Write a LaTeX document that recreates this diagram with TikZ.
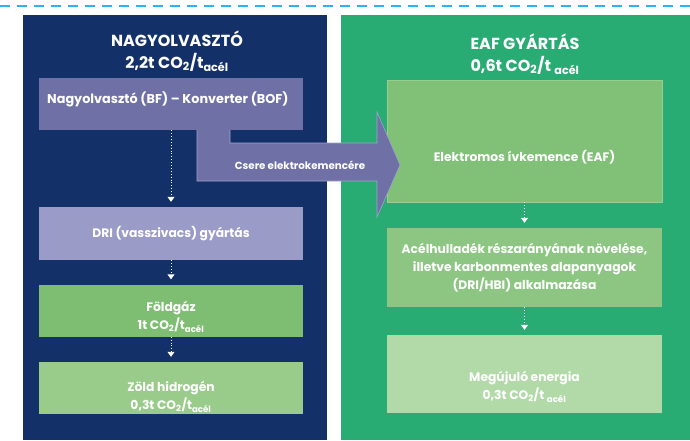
\documentclass[tikz,border=0pt]{standalone}
\usepackage{fontspec}
\setmainfont{Poppins}
\usetikzlibrary{arrows.meta}
\definecolor{navy}{RGB}{19,49,104}
\definecolor{pgreen}{RGB}{40,172,116}
\definecolor{slate}{RGB}{110,112,166}
\definecolor{slateedge}{RGB}{160,163,200}
\definecolor{lav}{RGB}{154,155,198}
\definecolor{gA}{RGB}{126,190,114}
\definecolor{gB}{RGB}{153,204,138}
\definecolor{gR1}{RGB}{128,193,119}
\definecolor{gR2}{RGB}{140,198,130}
\definecolor{gR3}{RGB}{178,217,168}
\definecolor{dashblue}{RGB}{43,181,238}
\newcommand\cotwo{CO\textsubscript{2}}
\newcommand\tac{t\textsubscript{acél}}
\tikzset{
  panel/.style={rectangle, inner sep=0pt, anchor=north west},
  boxL/.style={rectangle, inner sep=0pt, minimum width=264pt, text=white, font=\fontsize{12.3}{18}\selectfont\bfseries, align=center},
  boxR/.style={rectangle, inner sep=0pt, minimum width=275pt, text=white, font=\fontsize{12.3}{18}\selectfont\bfseries, align=center},
  boxtext/.style={text=white, font=\fontsize{12.3}{18}\selectfont\bfseries, align=center, inner sep=0pt},
  ttl/.style={text=white, font=\fontsize{16}{22}\selectfont\bfseries, align=center, inner sep=0pt},
  dotarrow/.style={draw=white, dotted, line width=0.9pt, -{Triangle[width=7pt,length=5pt]}, shorten >=5pt},
  dashline/.style={draw=dashblue, line width=1.4pt, dash pattern=on 10pt off 7pt}
}
\begin{document}
\begin{tikzpicture}[x=1pt,y=-1pt]
\useasboundingbox (0,0) rectangle (690,440);
\fill[white] (0,0) rectangle (690,440);
\coordinate (dl) at (0,6);
\coordinate (dr) at (690,6);
\draw[dashline] (dl) -- (dr);
% panels
\node[panel, fill=navy, minimum width=304pt, minimum height=425pt] (lp) at (23,15) {};
\node[panel, fill=pgreen, minimum width=349pt, minimum height=425pt] (rp) at (341,15) {};
% titles
\node[ttl] (tl) at (177,51) {NAGYOLVASZTÓ\\2,2t \cotwo/\tac};
\node[ttl] (tr) at (525,54) {EAF GYÁRTÁS\\0,6t \cotwo/t \textsubscript{acél}};
% right boxes
\node[boxR, fill=gR1, draw=gR1!80!white, line width=0.6pt, minimum height=122pt] (r1) at (524.5,141) {};
\node[boxtext] (r1t) at (524.5,157) {Elektromos ívkemence (EAF)};
% arrow
\fill[slate] (197,130) -- (230,130) -- (230,143) -- (377,143) -- (377,112) -- (400,165) -- (377,217) -- (377,181) -- (197,181) -- cycle;
\draw[slateedge, line width=0.6pt] (230,130) -- (230,143) -- (377,143) -- (377,112) -- (400,165) -- (377,217) -- (377,181) -- (197,181) -- (197,130);
\node[text=white, font=\fontsize{10.3}{12}\selectfont\bfseries, inner sep=0pt] (lbl) at (300,165) {Csere elektrokemencére};
% left boxes
\node[boxL, fill=slate, minimum height=52pt] (b1) at (171,104) {};
\node[text=white, font=\fontsize{12.8}{15}\selectfont\bfseries, anchor=west, inner sep=0pt] (b1t) at (47,99) {Nagyolvasztó (BF) – Konverter (BOF)};
\node[boxL, fill=lav, minimum height=53pt] (b2) at (171,233.5) {DRI (vasszivacs) gyártás};
\node[boxL, fill=gA, minimum height=52pt] (b3) at (171,310.5) {};
\node[boxtext] (b3t) at (171,317) {Földgáz\\1t \cotwo/\tac};
\node[boxL, fill=gB, minimum height=52pt] (b4) at (171,388) {};
\node[boxtext] (b4t) at (171,397) {Zöld hidrogén\\0,3t \cotwo/\tac};
\node[boxR, fill=gR2, minimum height=79pt] (r2) at (524.5,267.5) {Acélhulladék részarányának növelése,\\illetve karbonmentes alapanyagok\\(DRI/HBI) alkalmazása};
\node[boxR, fill=gR3, minimum height=78pt] (r3) at (524.5,374) {};
\node[boxtext] (r3t) at (524.5,387) {Megújuló energia\\0,3t \cotwo/t \textsubscript{acél}};
% dotted arrows
\draw[dotarrow] (b1) -- (b2);
\draw[dotarrow] (b2) -- (b3);
\draw[dotarrow] (b3) -- (b4);
\draw[dotarrow] (r1) -- (r2);
\draw[dotarrow] (r2) -- (r3);
\end{tikzpicture}
\end{document}
